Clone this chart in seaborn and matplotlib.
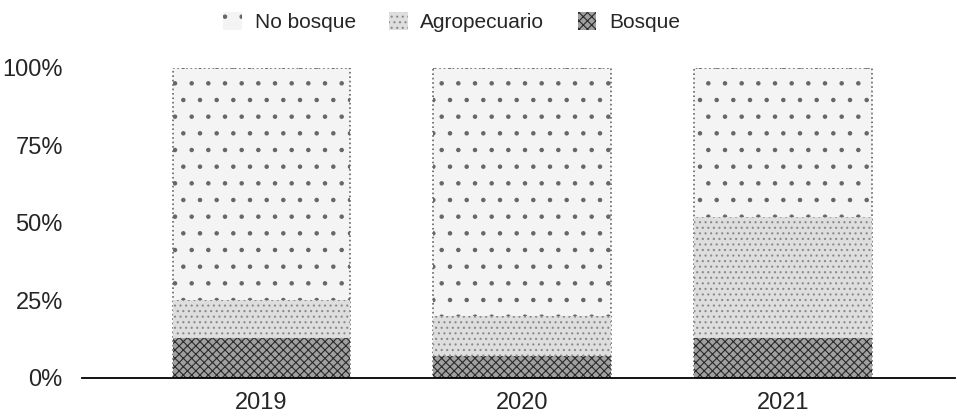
import matplotlib
matplotlib.use("Agg")
import matplotlib.pyplot as plt
import seaborn as sns
import pandas as pd
from matplotlib.patches import Patch
from matplotlib.ticker import PercentFormatter

# datos (% del total por año)
years = ["2019", "2020", "2021"]
bosque = [13, 7, 13]
agropecuario = [12, 13, 39]
no_bosque = [75, 80, 48]

sns.set_theme(style="white")
plt.rcParams["font.family"] = ["Liberation Sans", "DejaVu Sans"]
plt.rcParams["hatch.linewidth"] = 0.8

df = pd.DataFrame({"year": years, "bosque": bosque,
                   "agro": agropecuario, "no_bosque": no_bosque})
df["top_agro"] = df["bosque"] + df["agro"]
df["total"] = df["top_agro"] + df["no_bosque"]

fig = plt.figure(figsize=(9.57, 4.19), dpi=100)
ax = fig.add_axes([0.086, 0.098, 0.912, 0.740])

styles = {
    "No bosque": dict(facecolor="#f4f4f4", edgecolor="#666666", hatch=".", linestyle=":", linewidth=1.2),
    "Agropecuario": dict(facecolor="#dedede", edgecolor="#8a8a8a", hatch="...", linewidth=0),
    "Bosque": dict(facecolor="#a0a0a0", edgecolor="#2a2a2a", hatch="xxxx", linewidth=0),
}

# barras apiladas: se dibujan los acumulados de mayor a menor
for col, name in [("total", "No bosque"), ("top_agro", "Agropecuario"), ("bosque", "Bosque")]:
    sns.barplot(data=df, x="year", y=col, ax=ax, width=0.68, **styles[name])

ax.set_ylim(0, 100)
ax.set_xlim(-0.686, 2.66)
ax.set_yticks([0, 25, 50, 75, 100])
ax.yaxis.set_major_formatter(PercentFormatter(decimals=0))
ax.set_xlabel("")
ax.set_ylabel("")
ax.tick_params(axis="y", labelsize=17, length=0, pad=14)
ax.tick_params(axis="x", labelsize=17, length=0, pad=10)
for s in ["top", "right", "left"]:
    ax.spines[s].set_visible(False)
ax.spines["bottom"].set_color("black")
ax.spines["bottom"].set_linewidth(1.3)

handles = [Patch(label=k, **{kk: v for kk, v in st.items() if kk != "linestyle"}) for k, st in styles.items()]
handles[0].set_linewidth(0)
fig.legend(handles=handles, loc="center", bbox_to_anchor=(0.472, 0.947), ncol=3,
           frameon=False, fontsize=15, handlelength=0.9, handleheight=0.9,
           handletextpad=0.6, columnspacing=1.6)

fig.savefig("out.png", dpi=100)
